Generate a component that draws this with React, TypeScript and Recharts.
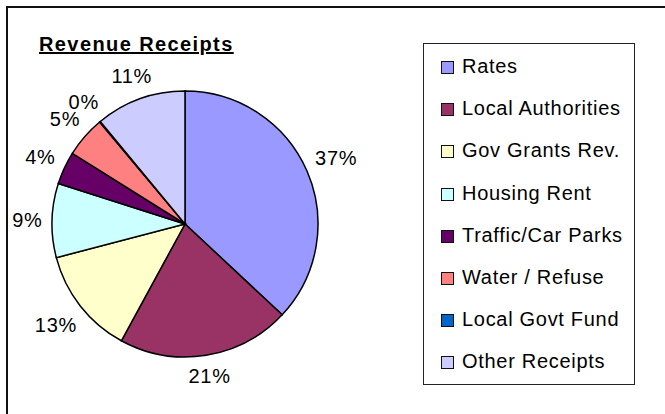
import React from "react";
import { Cell, Legend, Pie, PieChart } from "recharts";

const CATEGORIES = [
  "Rates",
  "Local Authorities",
  "Gov Grants Rev.",
  "Housing Rent",
  "Traffic/Car Parks",
  "Water / Refuse",
  "Local Govt Fund",
  "Other Receipts",
];

// share of revenue receipts, in percent
const SHARES = [37, 21, 13, 9, 4, 5, 0.1, 11];

const COLORS = [
  "#9999FF",
  "#993366",
  "#FFFFCC",
  "#CCFFFF",
  "#660066",
  "#FF8080",
  "#0066CC",
  "#CCCCFF",
];

const FONT = '"Liberation Sans", Arial, sans-serif';
const RADIAN = Math.PI / 180;

const data = CATEGORIES.map((name, i) => ({ name, value: SHARES[i] }));

function renderLabel(props: any) {
  const { cx, cy, midAngle, outerRadius, percent } = props;
  const text = `${Math.round(percent * 100)}%`;
  const dx = Math.cos(-midAngle * RADIAN);
  const dy = Math.sin(-midAngle * RADIAN);
  const halfW = (text.length * 11.5 + 6) / 2;
  const halfH = 8;
  const dist = outerRadius + 10 + Math.abs(dx) * halfW + Math.abs(dy) * halfH;
  return (
    <text
      x={cx + dist * dx}
      y={cy + dist * dy}
      textAnchor="middle"
      dominantBaseline="central"
      fill="#000"
      fontSize={20}
      fontFamily={FONT}
      letterSpacing={0.7}
    >
      {text}
    </text>
  );
}

function renderLegend(props: any) {
  const items = [...(props.payload || [])].sort(
    (a: any, b: any) => CATEGORIES.indexOf(a.value) - CATEGORIES.indexOf(b.value)
  );
  return (
    <div
      style={{
        boxSizing: "border-box",
        width: 212,
        height: 342,
        border: "1.5px solid #222",
        paddingTop: 1,
        background: "#fff",
      }}
    >
      {items.map((entry: any) => (
        <div
          key={entry.value}
          style={{ height: 42.2, display: "flex", alignItems: "center" }}
        >
          <span
            style={{
              display: "inline-block",
              boxSizing: "border-box",
              width: 13,
              height: 13,
              marginLeft: 17,
              marginRight: 8,
              marginTop: 3,
              background: entry.color,
              border: "1.5px solid #111",
            }}
          />
          <span
            style={{
              fontFamily: FONT,
              fontSize: 20,
              lineHeight: "20px",
              letterSpacing: 0.7,
              color: "#000",
            }}
          >
            {entry.value}
          </span>
        </div>
      ))}
    </div>
  );
}

export default function App() {
  return (
    <div
      style={{
        position: "absolute",
        left: 0,
        top: 0,
        width: 665,
        height: 414,
        background: "#fff",
        overflow: "hidden",
      }}
    >
      <div
        style={{
          position: "absolute",
          left: 6,
          top: 6,
          width: 700,
          height: 450,
          borderLeft: "2px solid #111",
          borderTop: "2px solid #111",
        }}
      />
      <div
        style={{
          position: "absolute",
          left: 39,
          top: 34,
          fontFamily: FONT,
          fontSize: 20,
          lineHeight: "20px",
          fontWeight: "bold",
          letterSpacing: 1.4,
          textDecoration: "underline",
          color: "#000",
        }}
      >
        Revenue Receipts
      </div>
      <div style={{ position: "absolute", left: 0, top: 0 }}>
        <PieChart width={665} height={414}>
          <Pie
            data={data}
            dataKey="value"
            nameKey="name"
            cx={180}
            cy={219}
            outerRadius={133}
            startAngle={90}
            endAngle={-270}
            stroke="#000"
            strokeWidth={1.5}
            labelLine={false}
            label={renderLabel}
            isAnimationActive={false}
          >
            {data.map((entry, i) => (
              <Cell key={entry.name} fill={COLORS[i]} />
            ))}
          </Pie>
          <Legend
            content={renderLegend}
            wrapperStyle={{ position: "absolute", left: 423, top: 43, width: 212, height: 342 }}
          />
        </PieChart>
      </div>
    </div>
  );
}
